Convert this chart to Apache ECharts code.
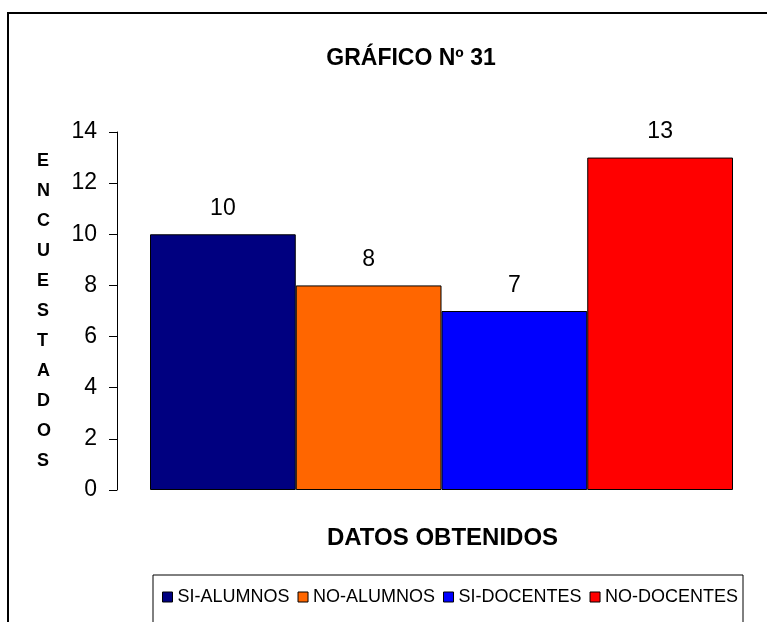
<!DOCTYPE html>
<html>
<head>
<meta charset="utf-8">
<script src="https://cdn.jsdelivr.net/npm/echarts@6/dist/echarts.min.js"></script>
<style>
  html, body { margin: 0; padding: 0; background: #fff; }
  #main { width: 767px; height: 622px; }
</style>
</head>
<body>
<div id="main"></div>
<script>
// datos del gráfico
var categorias = ['SI-ALUMNOS', 'NO-ALUMNOS', 'SI-DOCENTES', 'NO-DOCENTES'];
var valores = [10, 8, 7, 13];
var colores = ['#000080', '#FF6600', '#0000FF', '#FF0000'];
var ejeY = { min: 0, max: 14, interval: 2 };
var tituloEjeY = 'ENCUESTADOS';

var myChart = echarts.init(document.getElementById('main'));
var fuente = 'Liberation Sans, Arial, sans-serif';

var series = categorias.map(function (nombre, i) {
  return {
    name: nombre,
    type: 'bar',
    barGap: '0%',
    barCategoryGap: '0%',
    data: [valores[i]],
    itemStyle: { color: colores[i], borderColor: '#000', borderWidth: 1 },
    label: {
      show: true,
      position: 'top',
      distance: 14,
      color: '#000',
      fontFamily: fuente,
      fontSize: 23
    }
  };
});

var option = {
  animation: false,
  backgroundColor: '#fff',
  title: {
    text: 'GRÁFICO Nº 31',
    left: 406,
    top: 42,
    textAlign: 'center',
    textStyle: { fontFamily: fuente, fontSize: 23, fontWeight: 'bold', color: '#000' }
  },
  legend: {
    data: categorias,
    left: 157,
    top: 583,
    icon: 'rect',
    itemWidth: 10,
    itemHeight: 10,
    itemGap: 8,
    itemStyle: { borderColor: '#000', borderWidth: 1 },
    textStyle: { fontFamily: fuente, fontSize: 18, color: '#000' }
  },
  grid: { left: 150, right: 34, top: 132, bottom: 132 },
  xAxis: {
    type: 'category',
    data: [''],
    axisLine: { show: false },
    axisTick: { show: false },
    axisLabel: { show: false },
    name: 'DATOS OBTENIDOS',
    nameLocation: 'middle',
    nameGap: 36,
    nameTextStyle: { fontFamily: fuente, fontSize: 24, fontWeight: 'bold', color: '#000', padding: [0, 0, 0, 2] }
  },
  yAxis: {
    type: 'value',
    min: ejeY.min,
    max: ejeY.max,
    interval: ejeY.interval,
    offset: 33,
    splitLine: { show: false },
    axisLine: { show: true, lineStyle: { color: '#000', width: 1 } },
    axisTick: { show: true, length: 8, lineStyle: { color: '#000' } },
    axisLabel: { color: '#000', fontFamily: fuente, fontSize: 23, margin: 20 }
  },
  graphic: [
    {
      type: 'rect',
      shape: { x: 8, y: 13, width: 800, height: 700 },
      style: { fill: 'none', stroke: '#000', lineWidth: 2 }
    },
    {
      type: 'rect',
      shape: { x: 153, y: 575, width: 590, height: 80 },
      style: { fill: 'none', stroke: '#000', lineWidth: 1 }
    },
    {
      type: 'text',
      left: 37,
      top: 146,
      style: {
        text: tituloEjeY.split('').join('\n'),
        fontFamily: fuente,
        fontSize: 18,
        fontWeight: 'bold',
        lineHeight: 30,
        fill: '#000',
        align: 'center'
      }
    }
  ],
  series: series
};

myChart.setOption(option);
</script>
</body>
</html>
